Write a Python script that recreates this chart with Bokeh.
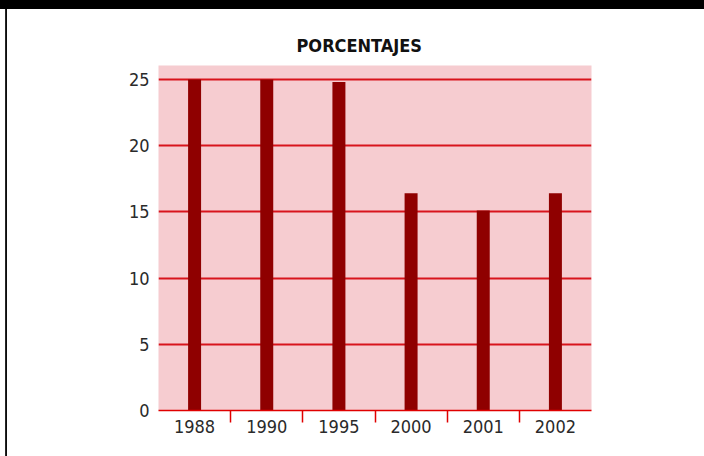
import numpy as np
from bokeh.plotting import figure
from bokeh.models import Range1d, FixedTicker, Title
from bokeh.embed import file_html
from bokeh.resources import INLINE

years = ["1988", "1990", "1995", "2000", "2001", "2002"]
values = [25.0, 25.0, 24.8, 16.4, 15.1, 16.4]
y_ticks = [0, 5, 10, 15, 20, 25]

x = list(np.arange(len(years)) + 0.5)
boundaries = list(np.arange(1, len(years)))

FONT = "DejaVu Sans Condensed"

p = figure(width=704, height=456, output_backend="svg", toolbar_location=None,
           x_range=Range1d(0, len(years)), y_range=Range1d(0, 26.05),
           min_border_left=158, min_border_right=113, min_border_top=65, min_border_bottom=46)

p.title = Title(text="PORCENTAJES", align="left", offset=138,
                text_font=FONT, text_font_size="18px", text_font_style="bold",
                text_color="#111111", standoff=20)

p.background_fill_color = "#f6ccd0"
p.border_fill_color = None
p.outline_line_color = None
p.styles = {
    "background": "linear-gradient(#000, #000) 0 0 / 100% 9px no-repeat, "
                  "linear-gradient(to right, #fff 5px, #333 5px, #000 7px, #fff 7px)"
}

p.vbar(x=x, top=values, width=0.18, bottom=0, fill_color="#8f0000", line_color=None)

# x axis
xa = p.xaxis[0]
xa.ticker = FixedTicker(ticks=x, minor_ticks=boundaries)
xa.major_label_overrides = {float(v): y for v, y in zip(x, years)}
xa.major_tick_line_color = None
xa.minor_tick_line_color = "#e00000"
xa.minor_tick_line_width = 1.5
xa.minor_tick_out = 12
xa.minor_tick_in = 0
xa.axis_line_color = "#e00000"
xa.axis_line_width = 1.5
xa.major_label_text_font = FONT
xa.major_label_text_font_size = "18px"
xa.major_label_text_color = "#2a2a2a"
xa.major_label_standoff = -3

# y axis
ya = p.yaxis[0]
ya.ticker = FixedTicker(ticks=y_ticks)
ya.axis_line_color = None
ya.major_tick_line_color = None
ya.minor_tick_line_color = None
ya.major_label_text_font = FONT
ya.major_label_text_font_size = "18px"
ya.major_label_text_color = "#2a2a2a"
ya.major_label_standoff = 3

p.xgrid.grid_line_color = None
p.ygrid.grid_line_color = "#d8141c"
p.ygrid.grid_line_width = 2

open("out.html", "w").write(file_html(p, INLINE))
